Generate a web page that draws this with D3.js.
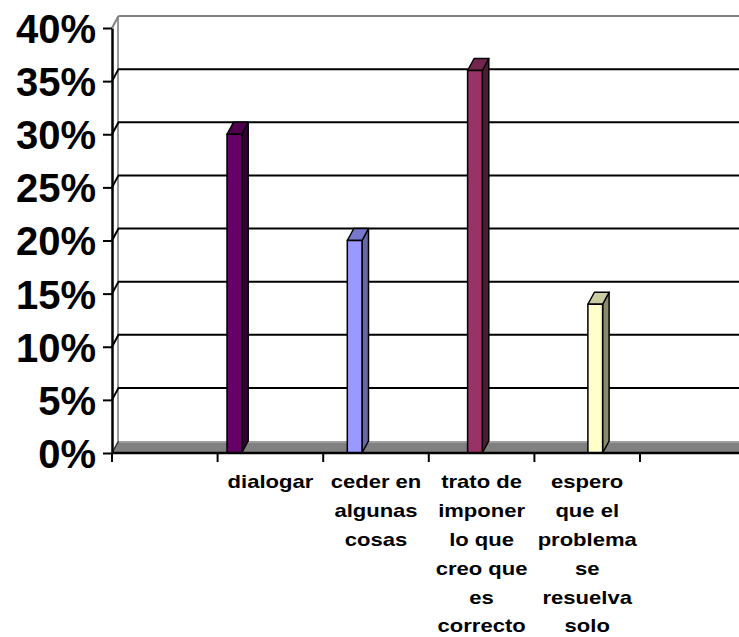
<!DOCTYPE html>
<html>
<head>
<meta charset="utf-8">
<script src="https://cdn.jsdelivr.net/npm/d3@7"></script>
<style>
  html, body { margin: 0; padding: 0; background: #ffffff; }
  svg { display: block; }
</style>
</head>
<body>
<svg id="chart" width="739" height="637"></svg>
<script>
// ---- data ----
const categories = [
  "dialogar",
  "ceder en\nalgunas\ncosas",
  "trato de\nimponer\nlo que\ncreo que\nes\ncorrecto",
  "espero\nque el\nproblema\nse\nresuelva\nsolo"
];
const values = [30, 20, 36, 14];
const yTicks = [0, 5, 10, 15, 20, 25, 30, 35, 40];
const frontColors = ["#660066", "#9999FF", "#993366", "#FFFFCC"];
const topColors   = ["#4f004f", "#7777CC", "#73264d", "#CCCCA3"];
const sideColors  = ["#330033", "#6666A8", "#4d1a33", "#8A8A6E"];

// ---- layout ----
const W = 739, H = 637;
const axisX = 112, baseY = 453, topY = 28;
const dx = 6.5, dy = -12;           // 3D depth offset
const slotCount = categories.length + 2; // empty slot each side

const svg = d3.select("#chart");
const y = d3.scaleLinear().domain([0, 40]).range([baseY, topY]);
const x = d3.scaleBand().domain(d3.range(slotCount)).range([axisX, axisX + 105.6 * slotCount]).padding(0);
const inner = d3.scaleBand().domain(d3.range(values.length)).range([9.4, 9.4 + 14.7 * values.length]).padding(0);

// back wall border (top) and left edge
svg.append("line").attr("x1", axisX + dx).attr("x2", W).attr("y1", y(40) + dy).attr("y2", y(40) + dy)
  .attr("stroke", "#808080").attr("stroke-width", 2);
svg.append("line").attr("x1", axisX + dx - 0.5).attr("x2", axisX + dx - 0.5).attr("y1", y(40) + dy).attr("y2", y(0) + dy)
  .attr("stroke", "#9a9a9a").attr("stroke-width", 2);
svg.append("line").attr("x1", axisX).attr("y1", y(40)).attr("x2", axisX + dx).attr("y2", y(40) + dy)
  .attr("stroke", "#808080").attr("stroke-width", 2);

// gridlines (side wall diagonal + back wall)
const grid = yTicks.filter(t => t > 0 && t < 40);
svg.append("g").selectAll("path").data(grid).join("path")
  .attr("d", t => `M${axisX},${y(t)} L${axisX + dx},${y(t) + dy} L${W},${y(t) + dy}`)
  .attr("fill", "none").attr("stroke", "#000").attr("stroke-width", 2);

// floor
svg.append("path")
  .attr("d", `M${axisX},${y(0)} L${axisX + dx},${y(0) + dy} L${W},${y(0) + dy} L${W},${y(0)} Z`)
  .attr("fill", "#808080");
svg.append("line").attr("x1", axisX + dx).attr("x2", W).attr("y1", y(0) + dy + 1).attr("y2", y(0) + dy + 1)
  .attr("stroke", "#a8a8a8").attr("stroke-width", 1.5);
svg.append("line").attr("x1", axisX).attr("y1", y(0)).attr("x2", axisX + dx).attr("y2", y(0) + dy)
  .attr("stroke", "#303030").attr("stroke-width", 1.5);

// bars
const bars = svg.append("g").selectAll("g").data(values).join("g");
const bx = i => x(i + 1) + inner(i);
const bw = inner.bandwidth();
bars.append("path") // side
  .attr("d", (v, i) => {
    const x1 = bx(i) + bw, yt = y(v), yb = y(0);
    return `M${x1},${yt} L${x1 + dx},${yt + dy} L${x1 + dx},${yb + dy} L${x1},${yb} Z`;
  })
  .attr("fill", (v, i) => sideColors[i]).attr("stroke", "#000").attr("stroke-width", 1.5).attr("stroke-linejoin", "round");
bars.append("path") // top
  .attr("d", (v, i) => {
    const x0 = bx(i), yt = y(v);
    return `M${x0},${yt} L${x0 + dx},${yt + dy} L${x0 + bw + dx},${yt + dy} L${x0 + bw},${yt} Z`;
  })
  .attr("fill", (v, i) => topColors[i]).attr("stroke", "#000").attr("stroke-width", 1.5).attr("stroke-linejoin", "round");
bars.append("rect") // front
  .attr("x", (v, i) => bx(i)).attr("y", v => y(v))
  .attr("width", bw).attr("height", v => y(0) - y(v))
  .attr("fill", (v, i) => frontColors[i]).attr("stroke", "#000").attr("stroke-width", 1.5);

// y axis
const yAxis = svg.append("g").attr("transform", `translate(${axisX},0)`)
  .call(d3.axisLeft(y).tickValues(yTicks).tickSize(9).tickSizeOuter(0).tickPadding(7).tickFormat(d => d + "%"));
yAxis.select(".domain").attr("stroke", "#000").attr("stroke-width", 2.5);
yAxis.selectAll(".tick line").attr("stroke", "#000").attr("stroke-width", 2);
yAxis.selectAll(".tick text")
  .attr("font-family", "'Liberation Sans', Arial, sans-serif").attr("font-weight", "bold")
  .attr("font-size", 40).attr("fill", "#000").attr("dy", "0.36em");

// x axis
const xAxis = svg.append("g").attr("transform", `translate(0,${y(0)})`);
xAxis.append("line").attr("x1", axisX).attr("x2", W).attr("y1", 0).attr("y2", 0)
  .attr("stroke", "#000").attr("stroke-width", 2.5);
xAxis.selectAll("line.tk").data(d3.range(slotCount)).join("line").attr("class", "tk")
  .attr("x1", i => x(i)).attr("x2", i => x(i)).attr("y1", 0).attr("y2", 9)
  .attr("stroke", "#000").attr("stroke-width", 2);

// category labels
const labels = svg.append("g").selectAll("g").data(categories).join("g")
  .attr("transform", (c, i) => `translate(${x(i + 1) + x.bandwidth() / 2},0) scale(1.16,1)`);
labels.append("text")
  .attr("font-family", "'Liberation Sans', Arial, sans-serif").attr("font-weight", "bold")
  .attr("font-size", 19).attr("text-anchor", "middle").attr("fill", "#000")
  .selectAll("tspan").data(c => c.split("\n")).join("tspan")
  .attr("x", 0).attr("y", (l, j) => 488 + j * 28.9).text(l => l);
</script>
</body>
</html>
